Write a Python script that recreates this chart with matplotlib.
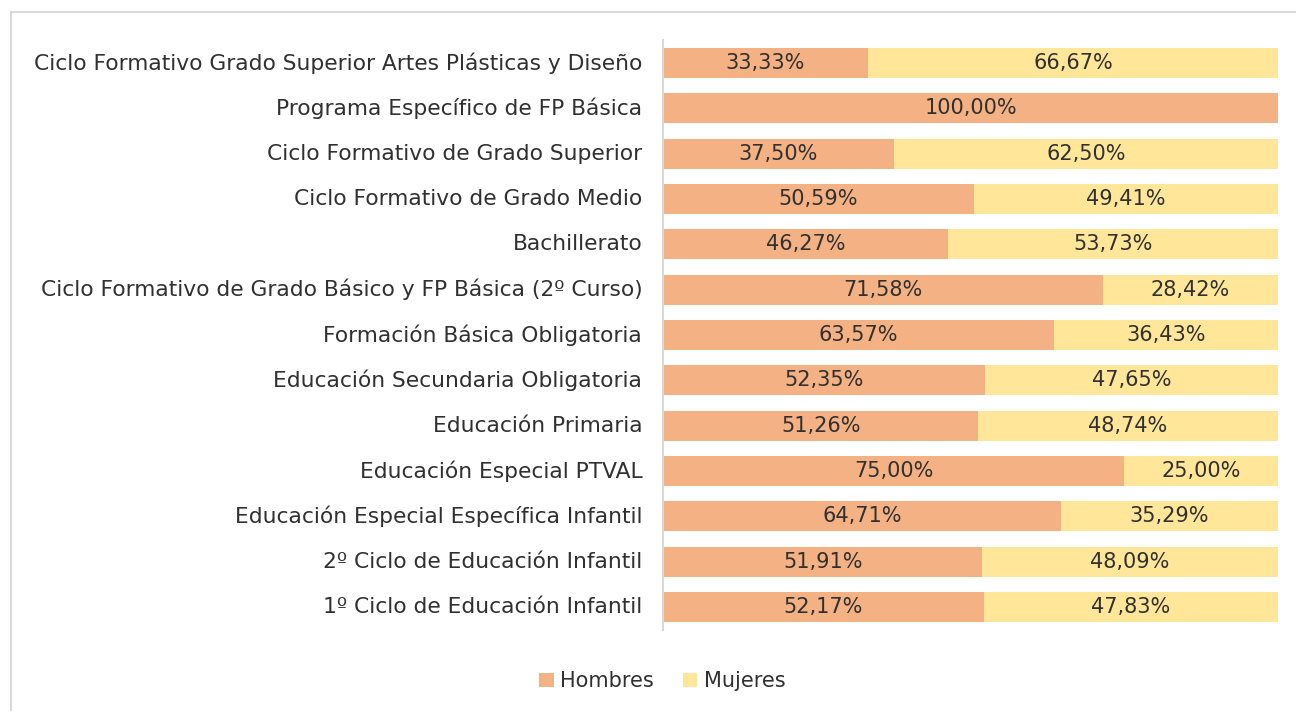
import matplotlib.pyplot as plt
import matplotlib.transforms as mtransforms
from matplotlib.patches import Rectangle
import numpy as np

categories = [
    "Ciclo Formativo Grado Superior Artes Plásticas y Diseño",
    "Programa Específico de FP Básica",
    "Ciclo Formativo de Grado Superior",
    "Ciclo Formativo de Grado Medio",
    "Bachillerato",
    "Ciclo Formativo de Grado Básico y FP Básica (2º Curso)",
    "Formación Básica Obligatoria",
    "Educación Secundaria Obligatoria",
    "Educación Primaria",
    "Educación Especial PTVAL",
    "Educación Especial Específica Infantil",
    "2º Ciclo de Educación Infantil",
    "1º Ciclo de Educación Infantil",
]
hombres = [33.33, 100.00, 37.50, 50.59, 46.27, 71.58, 63.57, 52.35, 51.26, 75.00, 64.71, 51.91, 52.17]
mujeres = [66.67, 0.00, 62.50, 49.41, 53.73, 28.42, 36.43, 47.65, 48.74, 25.00, 35.29, 48.09, 47.83]

c_h = "#F4B183"
c_m = "#FFE699"
txt = "#303030"
fs = 15.7

plt.rcParams["font.family"] = ["DejaVu Sans"]

fig = plt.figure(figsize=(12.96, 7.11), dpi=100)
ax = fig.add_axes([0.5116, 0.1143, 0.4745, 0.829])

y = np.arange(len(categories))
bh = ax.barh(y, hombres, height=0.66, color=c_h, label="Hombres")
bm = ax.barh(y, mujeres, left=hombres, height=0.66, color=c_m, label="Mujeres")

def fmt(v):
    return f"{v:.2f}%".replace(".", ",")

for i in range(len(categories)):
    if hombres[i] > 0:
        ax.text(hombres[i] / 2, i, fmt(hombres[i]), ha="center", va="center",
                fontsize=15, color=txt)
    if mujeres[i] > 0:
        ax.text(hombres[i] + mujeres[i] / 2, i, fmt(mujeres[i]), ha="center",
                va="center", fontsize=15, color=txt)

ax.set_xlim(0, 100)
ax.set_ylim(len(categories) - 0.5, -0.5)
ax.set_yticks(y)
ax.set_yticklabels(categories, fontsize=fs, color=txt, va="center_baseline")
ax.set_xticks([])
ax.tick_params(axis="y", length=0, pad=15)
# nudge labels up slightly to sit on the bar centres
shift = mtransforms.ScaledTranslation(0, 2 / 100, fig.dpi_scale_trans)
for lbl in ax.get_yticklabels():
    lbl.set_transform(lbl.get_transform() + shift)
for s in ["top", "right", "bottom"]:
    ax.spines[s].set_visible(False)
ax.spines["left"].set_color("#D9D9D9")
ax.spines["left"].set_linewidth(1.5)

leg = fig.legend(handles=[bh, bm], labels=["Hombres", "Mujeres"], loc="center",
                 bbox_to_anchor=(0.511, 0.042), ncol=2, frameon=False,
                 fontsize=15, handlelength=0.7, handleheight=0.7,
                 handletextpad=0.3, columnspacing=1.4)
for t in leg.get_texts():
    t.set_color(txt)

fig.patches.append(Rectangle((11 / 1296, -0.01), 1.02, 1 - 12 / 711 + 0.01,
                             transform=fig.transFigure, fill=False,
                             edgecolor="#D9D9D9", linewidth=1.5))

fig.savefig("out.png", dpi=100)
